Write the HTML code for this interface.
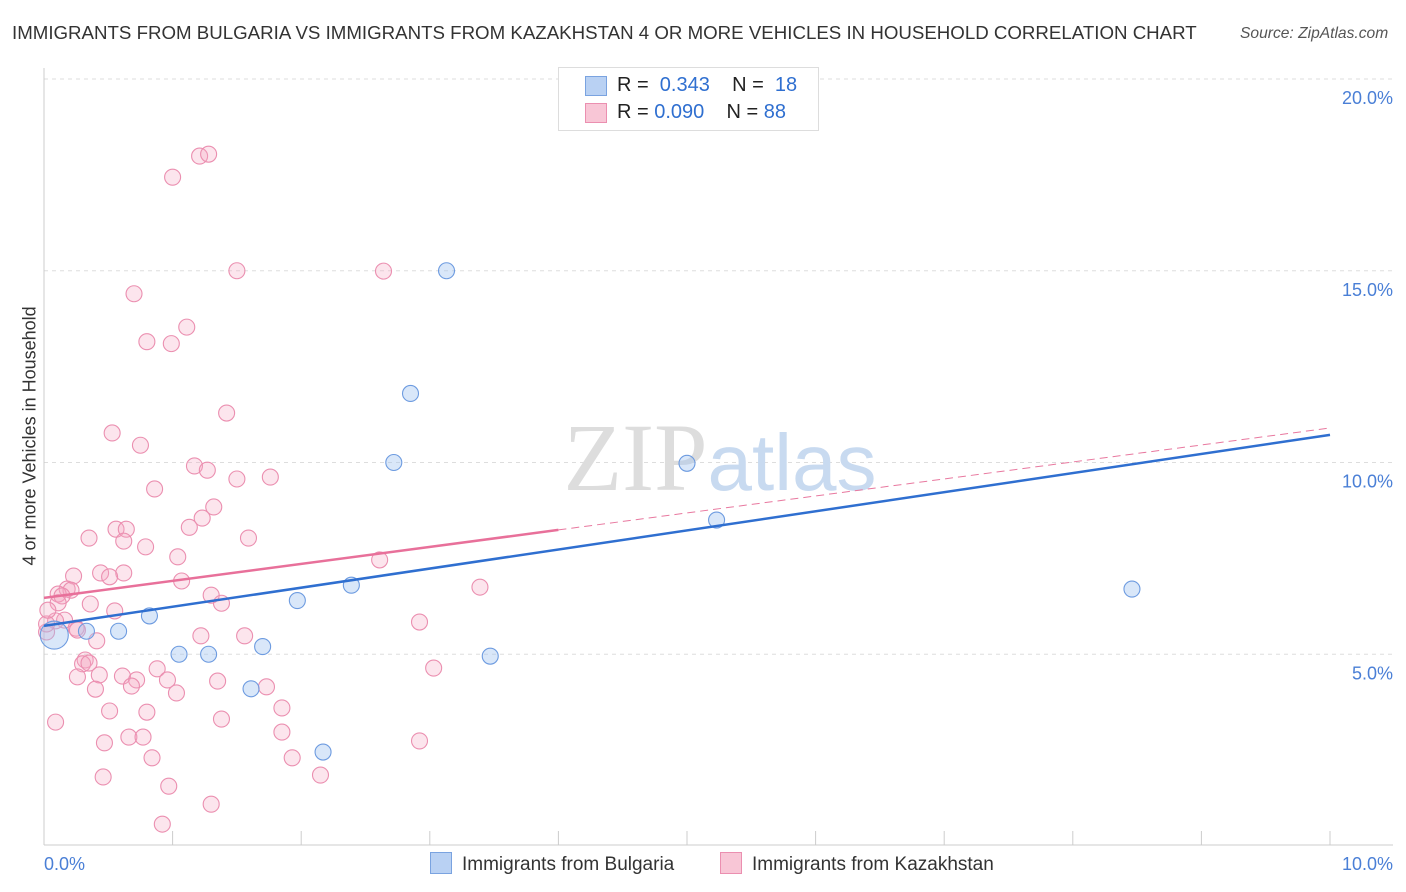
<!DOCTYPE html>
<html><head><meta charset="utf-8"><style>
body{margin:0;background:#fff;font-family:"Liberation Sans",sans-serif;}
#wrap{position:relative;width:1406px;height:892px;overflow:hidden;}
.t{position:absolute;white-space:nowrap;}
</style></head><body>
<div id="wrap">
<div class="t" style="left:12px;top:22px;font-size:18.7px;color:#333;">IMMIGRANTS FROM BULGARIA VS IMMIGRANTS FROM KAZAKHSTAN 4 OR MORE VEHICLES IN HOUSEHOLD CORRELATION CHART</div>
<div class="t" style="left:1240px;top:25px;font-size:15.6px;color:#555;font-style:italic;">Source: ZipAtlas.com</div>
<div class="t" style="left:-80px;top:445px;font-size:18px;color:#333;transform:rotate(-90deg);width:220px;text-align:center;">4 or more Vehicles in Household</div>
<svg id="svg" width="1406" height="892" style="position:absolute;left:0;top:0"></svg>
</div>
<script>
const blueX=[3.13,2.85,2.72,5.0,5.23,8.46,2.39,1.97,0.82,0.58,0.33,1.7,1.05,1.28,3.47,1.61,2.17,0.08];
const blueY=[15.0,11.8,10.0,9.98,8.5,6.7,6.8,6.4,6.0,5.6,5.6,5.2,5.0,5.0,4.95,4.1,2.45,5.5];
const pinkX=[1.21,1.28,1.0,1.5,2.64,0.7,1.11,0.8,0.99,1.42,0.53,0.75,1.17,1.27,1.5,1.76,0.86,1.32,1.23,1.13,0.56,0.64,0.35,1.59,0.62,0.79,1.04,2.61,0.44,0.62,0.51,0.23,1.07,3.39,0.18,0.21,0.11,0.14,1.3,1.38,0.36,0.11,0.55,0.16,0.09,2.92,0.25,0.26,1.22,1.56,0.41,0.88,0.32,0.3,0.35,3.03,0.26,0.61,0.72,0.96,0.43,1.35,0.68,1.73,0.4,1.03,1.85,0.51,0.8,1.38,0.09,1.85,0.66,0.77,0.47,2.92,0.84,1.93,0.46,2.15,0.97,1.3,0.92,0.02,0.02,0.03];
const pinkY=[17.99,18.04,17.44,15.0,14.99,14.4,13.53,13.15,13.1,11.29,10.77,10.45,9.91,9.8,9.57,9.62,9.31,8.84,8.55,8.31,8.26,8.26,8.03,8.03,7.95,7.8,7.54,7.46,7.12,7.12,7.02,7.04,6.91,6.75,6.7,6.67,6.57,6.52,6.54,6.33,6.31,6.34,6.13,5.89,5.87,5.84,5.68,5.63,5.48,5.48,5.35,4.62,4.85,4.75,4.77,4.64,4.41,4.43,4.33,4.33,4.46,4.3,4.17,4.15,4.09,3.99,3.6,3.52,3.49,3.31,3.23,2.97,2.84,2.84,2.69,2.74,2.3,2.3,1.8,1.85,1.56,1.09,0.57,5.58,5.79,6.15];
const blueLine=[5.74,10.72];
const pinkLine=[6.47,10.9];
const pinkSolidEnd=4.0;
const xTicks=["0.0%","10.0%"];
const yTicks=[5,10,15,20];
const yTickLabels=["5.0%","10.0%","15.0%","20.0%"];
const X=v=>44+v*128.6, Y=v=>846-v*38.35;
const svg=document.getElementById('svg');const NS='http://www.w3.org/2000/svg';
function mk(t,a,p){const e=document.createElementNS(NS,t);for(const k in a)e.setAttribute(k,a[k]);(p||svg).appendChild(e);return e;}
yTicks.forEach((v,i)=>{
 const g=mk('line',{x1:44,x2:1393,y1:Y(v),y2:Y(v),stroke:'#ddd','stroke-dasharray':'4,4'});
 
 
 const t=mk('text',{x:1393,y:Y(v)+25,'text-anchor':'end','font-size':18,fill:'#4a7fd6','font-family':'Liberation Sans'});t.textContent=yTickLabels[i];
 
 
});
const ax=mk('line',{x1:44,x2:1393,y1:845,y2:845,stroke:'#ccc'});


const ay=mk('line',{x1:44,x2:44,y1:68,y2:845,stroke:'#ccc'});


for(let i=0;i<=10;i++){const l=mk('line',{x1:X(i),x2:X(i),y1:831,y2:845,stroke:'#ccc'});
 
 }
[[0,'start',44],[10,'end',1393]].forEach((d,i)=>{const t=mk('text',{x:d[2],y:870,'text-anchor':d[1],'font-size':18,fill:'#4a7fd6','font-family':'Liberation Sans'});t.textContent=xTicks[i];
 
 });
const wm=mk('text',{x:720,y:490,'text-anchor':'middle','font-size':96,fill:'#ddd','font-family':'Liberation Serif'});wm.innerHTML='ZIP<tspan fill="#c8daf0" font-family="Liberation Sans" font-size="80">atlas</tspan>';


pinkX.forEach((x,i)=>{const c=mk('circle',{cx:X(x),cy:Y(pinkY[i]),r:8,fill:'rgba(246,170,195,0.3)',stroke:'#eb8fb0','stroke-width':1.1});
 
 });
blueX.forEach((x,i)=>{const c=mk('circle',{cx:X(x),cy:Y(blueY[i]),r:i==17?14:8,fill:'rgba(160,195,240,0.4)',stroke:'#6d9be0','stroke-width':1.1});
 
 });
const pl=(a,b)=>a+(b-a)*pinkSolidEnd/10;
const pd=mk('line',{x1:X(pinkSolidEnd),y1:Y(pl(pinkLine[0],pinkLine[1])),x2:X(10),y2:Y(pinkLine[1]),stroke:'#e8789f','stroke-width':1,'stroke-dasharray':'8,5'});


const ps=mk('line',{x1:X(0),y1:Y(pinkLine[0]),x2:X(pinkSolidEnd),y2:Y(pl(pinkLine[0],pinkLine[1])),stroke:'#e8709a','stroke-width':2.5});


const bl=mk('line',{x1:X(0),y1:Y(blueLine[0]),x2:X(10),y2:Y(blueLine[1]),stroke:'#2f6fd0','stroke-width':2.5});


</script>
<div class="t" style="left:558px;top:67px;width:259px;height:62px;border:1px solid #ddd;background:#fff;font-size:20px;color:#222;">
 <div style="position:absolute;left:26px;top:8px;width:20px;height:18px;background:#b9d1f3;border:1px solid #7aa3e0"></div>
 <div style="position:absolute;left:58px;top:6px">R = &nbsp;<span style="color:#2f6fd0">0.343</span>&nbsp;&nbsp;&nbsp; N = &nbsp;<span style="color:#2f6fd0">18</span></div>
 <div style="position:absolute;left:26px;top:35px;width:20px;height:18px;background:#f8c6d6;border:1px solid #eb8fb0"></div>
 <div style="position:absolute;left:58px;top:33px">R = <span style="color:#2f6fd0">0.090</span>&nbsp;&nbsp;&nbsp; N = <span style="color:#2f6fd0">88</span></div>
</div>
<div class="t" style="left:430px;top:852px;font-size:19px;color:#333;"><span style="display:inline-block;width:20px;height:20px;background:#b9d1f3;border:1px solid #7aa3e0;vertical-align:-4px;margin-right:10px"></span>Immigrants from Bulgaria</div>
<div class="t" style="left:720px;top:852px;font-size:19px;color:#333;"><span style="display:inline-block;width:20px;height:20px;background:#f8c6d6;border:1px solid #eb8fb0;vertical-align:-4px;margin-right:10px"></span>Immigrants from Kazakhstan</div>
</body></html>
